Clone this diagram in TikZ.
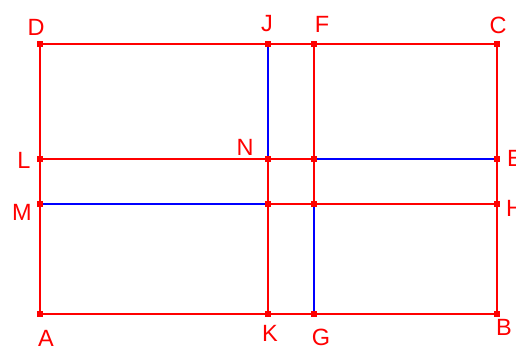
\documentclass[tikz,border=0pt]{standalone}
\usepackage{fontspec}
\setmainfont{Liberation Sans}
\begin{document}
\begin{tikzpicture}[x=1pt,y=-1pt,
  redline/.style={draw=red,line width=2.2pt},
  blueline/.style={draw=blue,line width=2pt},
  pt/.style={rectangle,fill=red,minimum size=5.5pt,inner sep=0pt},
  lbl/.style={text=red,font=\fontsize{23.5}{23.5}\selectfont,inner sep=0pt}]
\useasboundingbox (0,0) rectangle (516,345);
% points
\node[pt] (A) at (40,314) {};
\node[pt] (B) at (497,314) {};
\node[pt] (C) at (497,44) {};
\node[pt] (D) at (40,44) {};
\node[pt] (J) at (268,44) {};
\node[pt] (F) at (314,44) {};
\node[pt] (K) at (268,314) {};
\node[pt] (G) at (314,314) {};
\node[pt] (L) at (40,159) {};
\node[pt] (E) at (497,159) {};
\node[pt] (M) at (40,204) {};
\node[pt] (H) at (497,204) {};
\node[pt] (N) at (268,159) {};
\node[pt] (P) at (314,159) {};
\node[pt] (Q) at (268,204) {};
\node[pt] (R) at (314,204) {};
% blue segments
\draw[blueline] (J.center) -- (N.center);
\draw[blueline] (R.center) -- (G.center);
\draw[blueline] (P.center) -- (E.center);
\draw[blueline] (M.center) -- (Q.center);
% red segments
\draw[redline] (A.center) -- (B.center) -- (C.center) -- (D.center) -- cycle;
\draw[redline] (N.center) -- (K.center);
\draw[redline] (F.center) -- (R.center);
\draw[redline] (L.center) -- (P.center);
\draw[redline] (Q.center) -- (H.center);
% redraw dots on top
\foreach \p in {A,B,C,D,J,F,K,G,L,E,M,H,N,P,Q,R}
  \fill[red] ([shift={(-2.75,-2.75)}]\p.center) rectangle ([shift={(2.75,2.75)}]\p.center);
% labels
\node[lbl] (lD) at (36,27) {D};
\node[lbl] (lJ) at (267,24) {J};
\node[lbl] (lF) at (322,24) {F};
\node[lbl] (lC) at (498,25) {C};
\node[lbl] (lL) at (24,160) {L};
\node[lbl] (lM) at (22,212) {M};
\node[lbl] (lN) at (245,147) {N};
\node[lbl,anchor=west] (lE) at (507,158) {E};
\node[lbl,anchor=west] (lH) at (506,208) {H};
\node[lbl] (lA) at (46,338) {A};
\node[lbl] (lK) at (270,333) {K};
\node[lbl] (lG) at (321,337) {G};
\node[lbl] (lB) at (504,327) {B};
\end{tikzpicture}
\end{document}
